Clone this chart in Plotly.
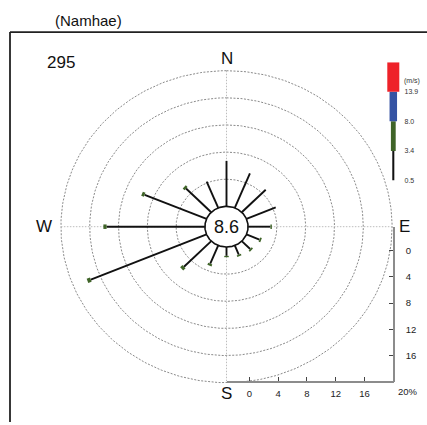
import numpy as np
import plotly.graph_objects as go

# ---------------- data ----------------
station = "(Namhae)"
n_obs = "295"
calm_pct = 8.6
directions = ['N', 'NNE', 'NE', 'ENE', 'E', 'ESE', 'SE', 'SSE',
              'S', 'SSW', 'SW', 'WSW', 'W', 'WNW', 'NW', 'NNW']
total_pct = [6.7, 5.5, 4.7, 4.4, 3.3, 2.2, 1.9, 1.7,
             1.5, 3.2, 5.8, 17.9, 14.1, 9.7, 5.3, 4.2]
green_pct = [0.0, 0.0, 0.0, 0.0, 0.2, 0.25, 0.25, 0.25,
             0.2, 0.3, 0.45, 0.5, 0.45, 0.4, 0.35, 0.0]
grid_levels = [4, 8, 12, 16, 20]
axis_ticks = [0, 4, 8, 12, 16, 20]
speed_labels = ['0.5', '3.4', '8.0', '13.9']
speed_colors = ['#111111', '#3f6428', '#3553a3', '#ee2229']
speed_widths = [0.17, 0.4, 0.625, 1.0]

# ---------------- geometry ----------------
W, H = 427, 425
R0 = 3.0                     # calm circle radius (in % units)
cx_px, cy_px = 226.5, 228.3  # rose centre in pixels
sx, sy = 7.2, 6.83           # px per % unit
FONT = "Liberation Sans, Arial, sans-serif"

def px(x):
    return x / W

def py(y):
    return 1 - y / H

theta = np.deg2rad(np.arange(16) * 22.5)

fig = go.Figure()

# grid ellipses
ang = np.linspace(0, 2 * np.pi, 361)
for g in grid_levels:
    r = R0 + g
    fig.add_trace(go.Scatter(x=r * np.sin(ang), y=r * np.cos(ang), mode='lines',
                             line=dict(color='#8a8a8a', width=1, dash='2px,1.5px'),
                             hoverinfo='skip', showlegend=False))

# cross hair
Rout = R0 + grid_levels[-1]
fig.add_trace(go.Scatter(x=[0, 0, None, -Rout, Rout], y=[Rout, -Rout, None, 0, 0],
                         mode='lines', line=dict(color='#bdbdbd', width=1, dash='1.5px,1.5px'),
                         hoverinfo='skip', showlegend=False))

# spokes
bx, by, gx, gy = [], [], [], []
for t, tot, gr in zip(theta, total_pct, green_pct):
    blk = tot - gr
    bx += [R0 * np.sin(t), (R0 + blk) * np.sin(t), None]
    by += [R0 * np.cos(t), (R0 + blk) * np.cos(t), None]
    if gr > 0:
        gx += [(R0 + blk) * np.sin(t), (R0 + tot) * np.sin(t), None]
        gy += [(R0 + blk) * np.cos(t), (R0 + tot) * np.cos(t), None]
fig.add_trace(go.Scatter(x=bx, y=by, mode='lines', line=dict(color='#111111', width=1.9),
                         hoverinfo='skip', showlegend=False))
fig.add_trace(go.Scatter(x=gx, y=gy, mode='lines', line=dict(color=speed_colors[1], width=4.5),
                         hoverinfo='skip', showlegend=False))

# calm circle
fig.add_trace(go.Scatter(x=R0 * np.sin(ang), y=R0 * np.cos(ang), mode='lines', fill='toself',
                         fillcolor='white', line=dict(color='#111111', width=1.6),
                         hoverinfo='skip', showlegend=False))

# invisible trace for the tick axes
fig.add_trace(go.Scatter(x=[0], y=[0], xaxis='x2', yaxis='y2', mode='markers',
                         marker=dict(opacity=0), hoverinfo='skip', showlegend=False))

# speed legend bars
fig.add_trace(go.Bar(x=[0] * 4, y=[1] * 4, base=list(range(4)), width=speed_widths,
                     marker=dict(color=speed_colors, line=dict(width=0)),
                     xaxis='x3', yaxis='y3', hoverinfo='skip', showlegend=False))

# ---------------- axes ----------------
xr = [-cx_px / sx, (W - cx_px) / sx]
yr = [-(H - cy_px) / sy, cy_px / sy]

x2_left, x2_right = 226.7, 394.0
x0_px, x20_px = 249.3, 393.3
sc2 = (x20_px - x0_px) / 20
y2_top, y2_bot = 228.3, 384.7
y0_px = 252.3
scy2 = (y2_bot - y0_px) / 20

axis_style = dict(showgrid=False, zeroline=False, showline=True, linecolor='#8c8c8c',
                  linewidth=1.5, ticks='inside', ticklen=4, tickcolor='#444',
                  tickwidth=1, tickfont=dict(family=FONT, size=9.5, color='#222'),
                  fixedrange=True)

fig.update_layout(
    width=W, height=H, margin=dict(l=0, r=0, t=0, b=0),
    paper_bgcolor='white', plot_bgcolor='rgba(0,0,0,0)',
    barmode='overlay', showlegend=False,
    xaxis=dict(domain=[0, 1], range=xr, visible=False, fixedrange=True),
    yaxis=dict(domain=[0, 1], range=yr, visible=False, fixedrange=True),
    xaxis2=dict(domain=[px(x2_left), px(x2_right)],
                range=[(x2_left - x0_px) / sc2, (x2_right - x0_px) / sc2],
                anchor='free', position=py(y2_bot), side='bottom', ticklabelstandoff=3,
                tickvals=axis_ticks, ticktext=[str(v) for v in axis_ticks[:-1]] + [''],
                **axis_style),
    yaxis2=dict(domain=[py(y2_bot), py(y2_top)],
                range=[20, (y0_px - y2_top) / -scy2],
                anchor='free', position=px(x2_right), side='right', ticklabelstandoff=9,
                tickvals=axis_ticks, ticktext=[str(v) for v in axis_ticks[:-1]] + [''],
                **axis_style),
    xaxis3=dict(domain=[px(381.3), px(405.3)], range=[-1, 1], visible=False, fixedrange=True),
    yaxis3=dict(domain=[py(181.7), py(62.7)], range=[0, 4], anchor='free',
                position=px(403.5), side='right', showgrid=False, zeroline=False,
                showline=False, ticks='', tickvals=list(range(4)), ticktext=speed_labels,
                tickfont=dict(family=FONT, size=7, color='#333'), fixedrange=True),
    font=dict(family=FONT, color='#111'),
)

# frame
fig.add_shape(type='line', xref='paper', yref='paper', x0=px(10), x1=1, y0=py(32.3), y1=py(32.3),
              line=dict(color='#222', width=1.8))
fig.add_shape(type='line', xref='paper', yref='paper', x0=px(10), x1=px(10), y0=py(32.3), y1=0,
              line=dict(color='#222', width=1.8))

# texts
ann = [
    dict(text=station, xref='paper', yref='paper', x=px(88.3), y=py(21), size=15),
    dict(text=n_obs, xref='paper', yref='paper', x=px(61), y=py(63), size=17),
    dict(text='N', xref='x', yref='y', x=0, y=Rout, yshift=12.5, size=17),
    dict(text='S', xref='x', yref='y', x=0, y=-Rout, yshift=-10.5, size=17),
    dict(text='E', xref='x', yref='y', x=Rout, y=0, xshift=12.5, size=17),
    dict(text='W', xref='x', yref='y', x=-Rout, y=0, xshift=-17, size=17),
    dict(text=f'{calm_pct}', xref='x', yref='y', x=0, y=0, size=18),
]
for a in ann:
    fig.add_annotation(text=a['text'], xref=a['xref'], yref=a['yref'], x=a['x'], y=a['y'],
                       xshift=a.get('xshift', 0), yshift=a.get('yshift', 0), showarrow=False,
                       xanchor='center', yanchor='middle',
                       font=dict(family=FONT, size=a['size'], color='#111'))

fig.add_annotation(text='20%', xref='x2', yref='paper', x=20, y=py(394), xanchor='left',
                   yanchor='middle', xshift=3, showarrow=False,
                   font=dict(family=FONT, size=9.5, color='#222'))
fig.add_annotation(text='(m/s)', xref='paper', yref='y3', x=px(401.5), y=3.38, xanchor='left',
                   yanchor='middle', showarrow=False,
                   font=dict(family=FONT, size=7, color='#333'))

fig.write_html("out.html", config={'displayModeBar': False},
               post_script="document.body.style.margin='0';"
               "document.body.style.overflow='hidden';")
